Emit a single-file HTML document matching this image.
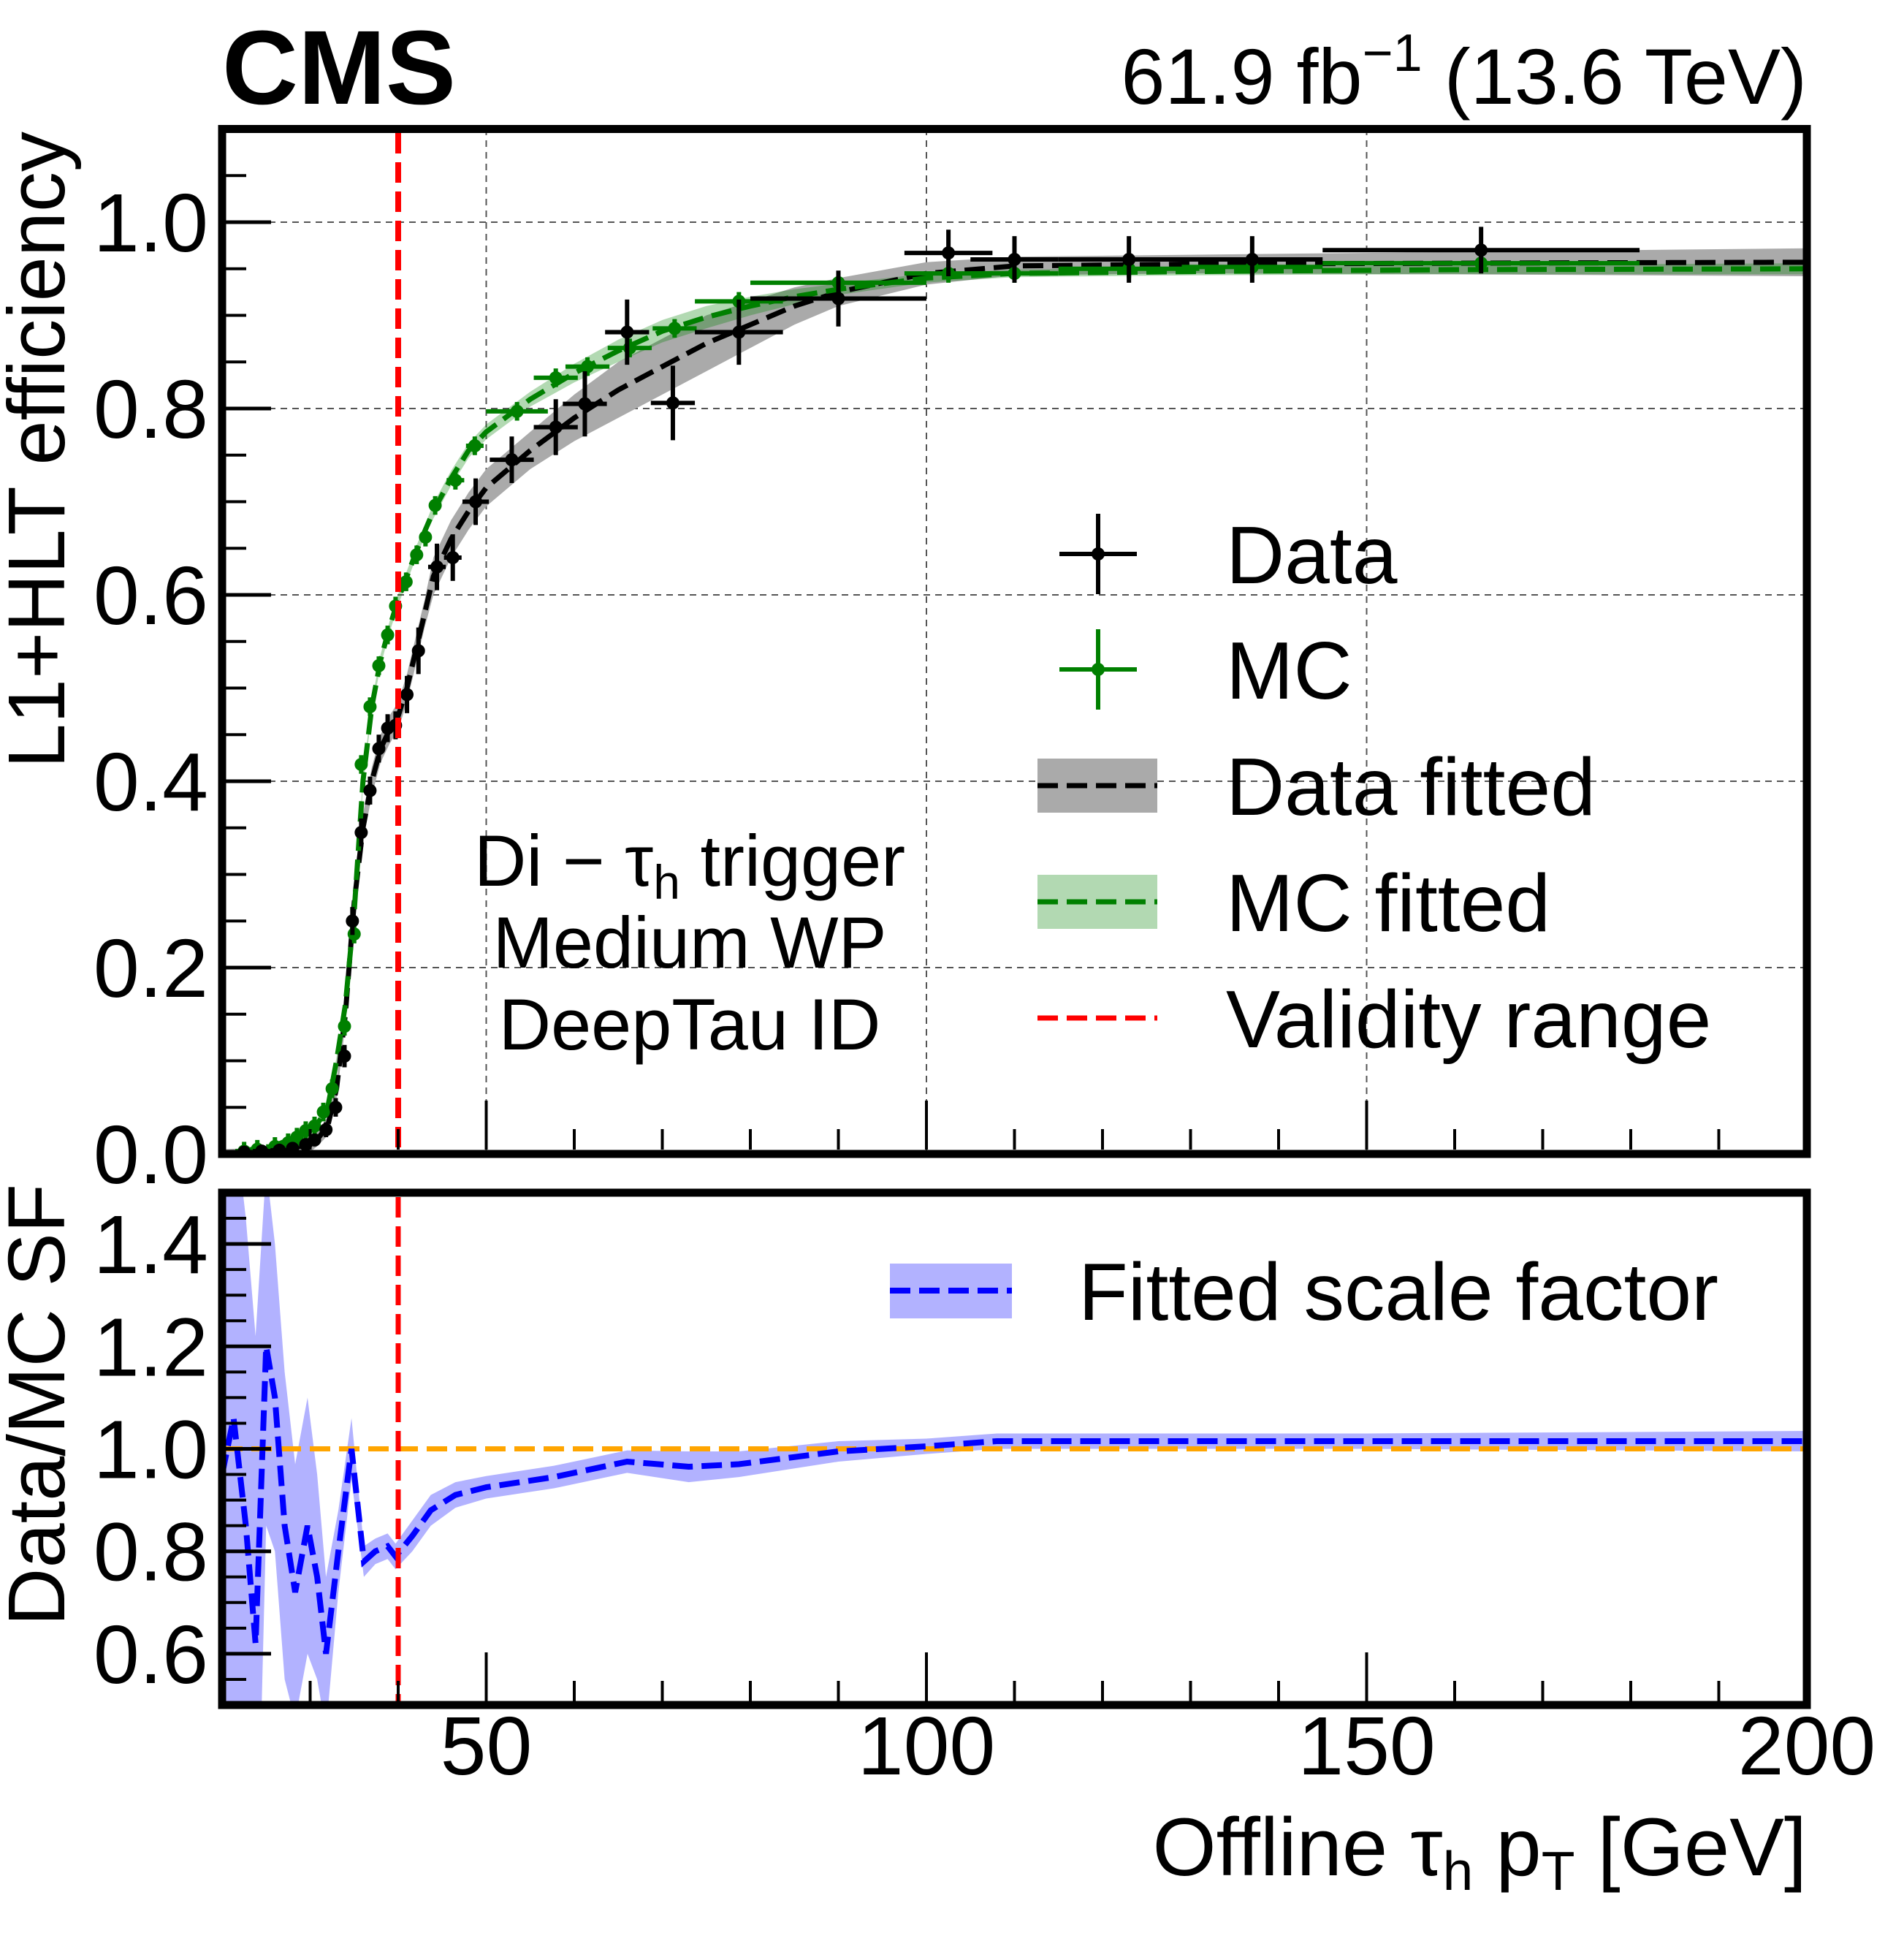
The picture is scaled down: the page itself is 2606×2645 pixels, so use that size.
<!DOCTYPE html>
<html><head><meta charset="utf-8">
<style>
html,body{margin:0;padding:0;background:#fff;}
svg{display:block;font-family:"Liberation Sans",Arial,sans-serif;}
</style></head>
<body>
<svg id="chart" width="2606" height="2645" viewBox="0 0 2606 2645" xmlns="http://www.w3.org/2000/svg">
<defs>
<clipPath id="clipU"><rect x="304" y="176" width="2169" height="1403"/></clipPath>
<clipPath id="clipL"><rect x="304" y="1632" width="2169" height="701"/></clipPath>
</defs>
<g id="layer"></g>
<text x="304" y="142" font-size="144" font-weight="bold">CMS</text>
<text x="2473" y="142" font-size="108" text-anchor="end">61.9 fb<tspan dy="-45" font-size="72">−1</tspan><tspan dy="45"> (13.6 TeV)</tspan></text>
<text transform="translate(88,180) rotate(-90)" font-size="110" text-anchor="end">L1+HLT efficiency</text>
<text transform="translate(88,2225) rotate(-90)" font-size="110" text-anchor="start">Data/MC SF</text>
<text x="2473" y="2566" font-size="112" text-anchor="end">Offline τ<tspan dy="20" font-size="75">h</tspan><tspan dy="-20"> p</tspan><tspan dy="20" font-size="75">T</tspan><tspan dy="-20"> [GeV]</tspan></text>
<g font-size="99" text-anchor="middle">
<text x="944" y="1212">Di − τ<tspan dy="18" font-size="66">h</tspan><tspan dy="-18"> trigger</tspan></text>
<text x="944" y="1324">Medium WP</text>
<text x="944" y="1436">DeepTau ID</text>
</g>
</svg>
<script>
// ---- data ----
const dataX=[22.5,24.5,26.5,28,29.5,30.5,31.8,32.9,33.9,34.8,35.8,36.8,37.8,38.8,39.7,41,42.3,44.4,46.2,48.8,52.9,57.9,61.2,66,71.2,78.7,90,102.5,110,123,137,163];
const dataY=[0.002,0.003,0.004,0.006,0.01,0.015,0.026,0.05,0.105,0.25,0.345,0.39,0.435,0.457,0.46,0.493,0.54,0.63,0.64,0.70,0.745,0.78,0.805,0.882,0.806,0.882,0.918,0.967,0.96,0.96,0.96,0.97];
const dataXerr=[1,1,1,0.5,0.5,0.5,0.5,0.5,0.5,0.5,0.5,0.5,0.5,0.5,0.5,0.7,0.7,1,1,1.5,2.5,2.5,2.5,2.5,2.5,5,10,5,5,8,8,18];
const dataYerr=[0.002,0.002,0.003,0.003,0.004,0.005,0.008,0.01,0.012,0.015,0.015,0.015,0.015,0.015,0.015,0.02,0.025,0.025,0.025,0.025,0.025,0.03,0.035,0.035,0.04,0.035,0.03,0.025,0.025,0.025,0.025,0.025];
const mcX=[22.5,24,26,27.5,28.5,29.5,30.5,31.5,32.5,33.9,35,35.8,36.8,37.8,38.8,39.7,40.9,42.1,43.1,44.2,46.5,48.7,53.5,57.9,61.5,66.3,71.4,78.7,90,102.5,110,123,137,163];
const mcY=[0.003,0.005,0.008,0.012,0.018,0.025,0.03,0.045,0.07,0.137,0.236,0.418,0.48,0.524,0.557,0.588,0.614,0.643,0.662,0.696,0.723,0.76,0.797,0.833,0.845,0.865,0.886,0.915,0.935,0.945,0.945,0.95,0.952,0.956];
const mcXerr=[1,1,1,0.5,0.5,0.5,0.5,0.5,0.5,0.5,0.5,0.5,0.5,0.5,0.5,0.5,0.5,0.5,0.5,0.5,1,1,3.5,2.5,2.5,2.5,2.5,5,10,5,5,8,8,18];
const fitX=[20,25,30,31,32,33,34,35,36,37,38,39,40,41,42,43,44,46,48,50,55,60,65,70,75,80,85,90,100,110,130,160,200];
const fitData=[0,0.002,0.01,0.018,0.03,0.07,0.15,0.27,0.35,0.40,0.435,0.455,0.47,0.50,0.54,0.58,0.62,0.66,0.69,0.715,0.755,0.79,0.82,0.845,0.87,0.89,0.91,0.925,0.945,0.953,0.955,0.956,0.957];
const fitDataErr=[0.005,0.005,0.008,0.008,0.01,0.01,0.012,0.015,0.015,0.015,0.015,0.015,0.015,0.015,0.015,0.015,0.02,0.02,0.02,0.02,0.02,0.025,0.03,0.03,0.03,0.025,0.02,0.015,0.012,0.01,0.01,0.012,0.015];
const fitMC=[0,0.005,0.025,0.035,0.05,0.1,0.16,0.26,0.40,0.48,0.53,0.565,0.595,0.62,0.645,0.668,0.69,0.725,0.755,0.775,0.81,0.838,0.862,0.883,0.898,0.91,0.92,0.928,0.94,0.945,0.947,0.949,0.95];
const sfX=[20,21.3,22.7,23.8,25,26,27.1,28.3,29.7,30.8,31.8,33.2,34.7,36.1,37.4,38.8,39.7,41.6,43.7,46.5,50,57.7,66,73,78.7,90,100,108,150,200];
const sfY=[0.95,1.06,0.85,0.62,1.2,1.1,0.85,0.72,0.85,0.75,0.6,0.8,1.0,0.78,0.8,0.81,0.79,0.83,0.88,0.91,0.925,0.945,0.975,0.965,0.97,0.995,1.005,1.015,1.015,1.015];
const sfErr=[0.6,0.6,0.6,0.6,0.35,0.3,0.3,0.25,0.25,0.2,0.15,0.08,0.06,0.03,0.025,0.025,0.025,0.03,0.03,0.025,0.022,0.022,0.022,0.03,0.025,0.02,0.015,0.015,0.015,0.02];
const yTicksU=[0.0,0.2,0.4,0.6,0.8,1.0];
const yTickLabelsU=["0.0","0.2","0.4","0.6","0.8","1.0"];
const yTicksL=[0.6,0.8,1.0,1.2,1.4];
const yTickLabelsL=["0.6","0.8","1.0","1.2","1.4"];
const xTicks=[50,100,150,200];
const xTickLabels=["50","100","150","200"];
const validity=40;

// ---- axes ----
const X=v=>304+(v-20)*(2169/180);
const YU=v=>1579-v*1275;
const YL=v=>2333-(v-0.5)*701;
const NS="http://www.w3.org/2000/svg";
const layer=document.getElementById('layer');
function mk(tag,attrs,parent){const e=document.createElementNS(NS,tag);for(const k in attrs)e.setAttribute(k,attrs[k]);(parent||layer).appendChild(e);return e;}
function grp(clip){const g=mk('g',clip?{'clip-path':'url(#'+clip+')'}:{});return g;}
const pathOf=(xs,ys,Y)=>xs.map((x,i)=>(i?'L':'M')+X(x).toFixed(1)+','+Y(ys[i]).toFixed(1)).join('');
const bandOf=(xs,ys,es,Y)=>{let s=xs.map((x,i)=>(i?'L':'M')+X(x).toFixed(1)+','+Y(ys[i]+es[i]).toFixed(1)).join('');for(let i=xs.length-1;i>=0;i--)s+='L'+X(xs[i]).toFixed(1)+','+Y(ys[i]-es[i]).toFixed(1);return s+'Z';};
const DASH='28,12';

// grid (upper)
const gU=grp('clipU');
yTicksU.forEach(v=>{if(v>0){const l=mk('line',{x1:304,x2:2473,y1:YU(v),y2:YU(v),stroke:'#555','stroke-width':2,'stroke-dasharray':'9,7'},gU);

}});
[50,100,150].forEach(v=>{const l=mk('line',{x1:X(v),x2:X(v),y1:176,y2:1579,stroke:'#555','stroke-width':2,'stroke-dasharray':'9,7'},gU);

});

let e;
e=mk('path',{d:bandOf(fitX,fitData,fitDataErr,YU),fill:'#aaaaaa'},gU);


e=mk('path',{d:bandOf(fitX,fitMC,fitDataErr.map(v=>v*0.4),YU),fill:'rgba(0,128,0,0.3)'},gU);


e=mk('path',{d:pathOf(fitX,fitData,YU),fill:'none',stroke:'#000','stroke-width':7,'stroke-dasharray':DASH},gU);


e=mk('path',{d:pathOf(fitX,fitMC,YU),fill:'none',stroke:'#008000','stroke-width':7,'stroke-dasharray':DASH},gU);



function points(xs,ys,xe,ye,col,name){
  xs.forEach((x,i)=>{
    const g=mk('g',{},gU);
    
    
    mk('line',{x1:X(x-xe[i]),x2:X(x+xe[i]),y1:YU(ys[i]),y2:YU(ys[i]),stroke:col,'stroke-width':6},g);
    mk('line',{x1:X(x),x2:X(x),y1:YU(ys[i]+ye[i]),y2:YU(ys[i]-ye[i]),stroke:col,'stroke-width':6},g);
    mk('circle',{cx:X(x),cy:YU(ys[i]),r:9,fill:col},g);
  });
}
points(mcX,mcY,mcXerr,mcX.map(()=>0.01),'#008000','mc');
points(dataX,dataY,dataXerr,dataYerr,'#000','data');

e=mk('line',{x1:X(validity),x2:X(validity),y1:182,y2:1573,stroke:'#ff0000','stroke-width':8,'stroke-dasharray':DASH});



const gL=grp('clipL');
e=mk('path',{d:bandOf(sfX,sfY,sfErr,YL),fill:'rgba(0,0,255,0.3)'},gL);


e=mk('line',{x1:304,x2:2473,y1:YL(1),y2:YL(1),stroke:'#ffa500','stroke-width':7,'stroke-dasharray':DASH},gL);


e=mk('path',{d:pathOf(sfX,sfY,YL),fill:'none',stroke:'#0000ff','stroke-width':8,'stroke-dasharray':DASH},gL);


e=mk('line',{x1:X(validity),x2:X(validity),y1:1638,y2:2328,stroke:'#ff0000','stroke-width':7,'stroke-dasharray':DASH});



for(let v=0;v<=1.1001;v+=0.05){const maj=Math.abs(v*5-Math.round(v*5))<1e-6;mk('line',{x1:309,x2:309+(maj?62:28),y1:YU(v),y2:YU(v),stroke:'#000','stroke-width':maj?5:4});}
for(let v=0.5;v<=1.5001;v+=0.05){const maj=Math.abs(v*5-Math.round(v*5))<1e-6;mk('line',{x1:309,x2:309+(maj?62:28),y1:YL(v),y2:YL(v),stroke:'#000','stroke-width':maj?5:4});}
for(let v=30;v<200;v+=10){const maj=v%50===0;[1573,2328].forEach(y=>mk('line',{x1:X(v),x2:X(v),y1:y,y2:y-(maj?67:28),stroke:'#000','stroke-width':4}));}
yTicksU.forEach((v,i)=>{const t=mk('text',{x:285,y:YU(v)+40,'font-size':113,'text-anchor':'end'});t.textContent=yTickLabelsU[i];

});
yTicksL.forEach((v,i)=>{const t=mk('text',{x:285,y:YL(v)+40,'font-size':113,'text-anchor':'end'});t.textContent=yTickLabelsL[i];

});
xTicks.forEach((v,i)=>{const t=mk('text',{x:X(v),y:2428,'font-size':113,'text-anchor':'middle'});t.textContent=xTickLabels[i];

});

e=mk('rect',{x:304,y:176.5,width:2169,height:1402.5,fill:'none',stroke:'#000','stroke-width':11});


e=mk('rect',{x:304,y:1632,width:2169,height:701,fill:'none',stroke:'#000','stroke-width':11});



const legRows=[798,956,1115,1274,1433];
const legNames=['Data','MC','Data fitted','MC fitted','Validity range'];
legNames.forEach((n,i)=>{
  const g=mk('g',{});
  
  
  const y=legRows[i]-40;
  if(i<2){const c=i?'#008000':'#000';
    mk('line',{x1:1450,x2:1556,y1:y,y2:y,stroke:c,'stroke-width':6},g);
    mk('line',{x1:1503,x2:1503,y1:y-55,y2:y+55,stroke:c,'stroke-width':6},g);
    mk('circle',{cx:1503,cy:y,r:9,fill:c},g);}
  else if(i<4){mk('rect',{x:1420,y:y-37,width:164,height:74,fill:i==2?'#aaaaaa':'rgba(0,128,0,0.3)'},g);
    mk('line',{x1:1420,x2:1584,y1:y,y2:y,stroke:i==2?'#000':'#008000','stroke-width':7,'stroke-dasharray':DASH},g);}
  else mk('line',{x1:1420,x2:1584,y1:y,y2:y,stroke:'#ff0000','stroke-width':7,'stroke-dasharray':DASH},g);
  const t=mk('text',{x:1678,y:legRows[i],'font-size':111},g);t.textContent=n;
});
const gl=mk('g',{});


mk('rect',{x:1218,y:1729,width:167,height:75,fill:'rgba(0,0,255,0.3)'},gl);
mk('line',{x1:1218,x2:1385,y1:1766,y2:1766,stroke:'#0000ff','stroke-width':8,'stroke-dasharray':DASH},gl);
const tl=mk('text',{x:1476,y:1806,'font-size':111},gl);tl.textContent='Fitted scale factor';
</script>
</body></html>
